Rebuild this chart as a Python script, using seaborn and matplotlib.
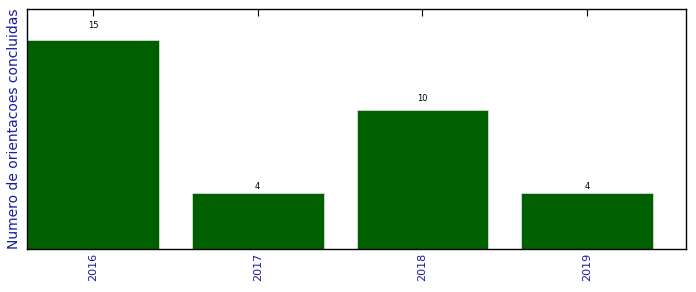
import matplotlib
matplotlib.use("Agg")
import matplotlib.pyplot as plt
import seaborn as sns
import pandas as pd

years = ["2016", "2017", "2018", "2019"]
counts = [15, 4, 10, 4]

sns.set_style("white")
plt.rcParams['font.family'] = ['DejaVu Sans']

df = pd.DataFrame({"ano": years, "n": counts})

fig = plt.figure(figsize=(6.96, 2.92), dpi=100)
ax = fig.add_axes([27/696, 1 - 249/292, (686-27)/696, (249-9)/292])
sns.barplot(data=df, x="ano", y="n", order=years, color="#006000",
            saturation=1, width=0.8, edgecolor="#d0e0d0", linewidth=0.6, ax=ax)
ax.set_xlim(-0.4, 3.6)
ax.set_ylim(0, 17.25)
ax.set_yticks([])
ax.set_xlabel("")
ax.set_ylabel("Numero de orientacoes concluidas", color="#1a1aa0", fontsize=10, labelpad=4)
ax.tick_params(axis="x", direction="in", length=5, width=0.8, top=True, bottom=True,
               labelcolor="#1a1aa0", labelsize=8, labelrotation=90, pad=3, color="black")
for s in ax.spines.values():
    s.set_visible(True)
    s.set_color("black")
    s.set_linewidth(1.0)
for i, v in enumerate(counts):
    ax.text(i, 1.05 * v, str(v), ha="center", va="bottom", fontsize=6, color="black")
fig.savefig("out.png", dpi=100)
